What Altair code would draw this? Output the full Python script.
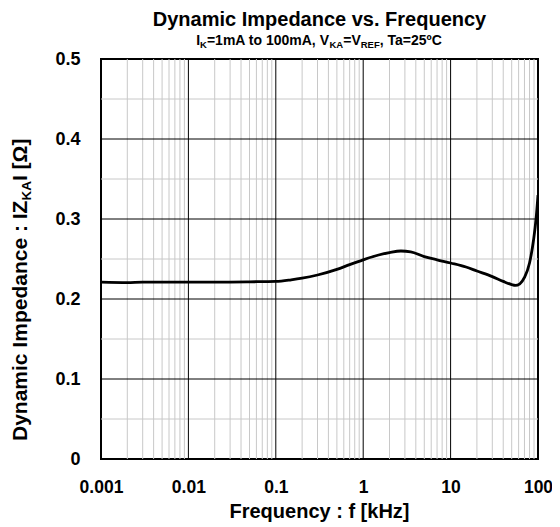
import altair as alt
import pandas as pd

# ---- data ----
freq_khz = [0.001, 0.002, 0.003, 0.005, 0.01, 0.02, 0.03, 0.05, 0.1, 0.15, 0.2, 0.3,
            0.5, 0.7, 1, 1.5, 2, 2.7, 3.5, 5, 7, 10, 15, 20, 30, 40, 50, 55, 62,
            70, 80, 89, 95, 100]
impedance = [0.221, 0.2205, 0.221, 0.221, 0.221, 0.221, 0.2212, 0.2215, 0.222, 0.224,
             0.226, 0.230, 0.237, 0.243, 0.249, 0.255, 0.258, 0.260, 0.259, 0.253,
             0.249, 0.245, 0.240, 0.235, 0.228, 0.222, 0.218, 0.217, 0.219, 0.227,
             0.245, 0.274, 0.300, 0.330]

x_major = [0.001, 0.01, 0.1, 1, 10, 100]
x_minor = [m * 10.0 ** e for e in range(-3, 2) for m in range(2, 10)]
y_major = [0.0, 0.1, 0.2, 0.3, 0.4, 0.5]
y_minor = [0.05, 0.15, 0.25, 0.35, 0.45]

title_text = "Dynamic Impedance vs. Frequency"
subtitle_parts = [("I", False), ("K", True), ("=1mA to 100mA, V", False), ("KA", True),
                  ("=V", False), ("REF", True), (", Ta=25ºC", False)]
ytitle_parts = [("Dynamic Impedance : IZ", False), ("KA", True), ("I [Ω]", False)]
xtitle_text = "Frequency : f [kHz]"

FONT = "Liberation Sans"
W, H = 437, 400
PAD_L = 93

# Arial/Liberation Sans Bold advance widths (per 1000 em)
AW = {" ": 278, ",": 278, ".": 278, ":": 333, "=": 584, "[": 333, "]": 333, "º": 365, "Ω": 770}
for c in "0123456789":
    AW[c] = 556
AW.update(dict(zip("ABCDEFGHIJKLMNOPQRSTUVWXYZ",
                   [722, 722, 722, 722, 667, 611, 778, 722, 278, 556, 722, 611, 833, 722, 778,
                    667, 778, 722, 667, 611, 722, 667, 944, 667, 667, 611])))
AW.update(dict(zip("abcdefghijklmnopqrstuvwxyz",
                   [556, 611, 556, 611, 556, 333, 611, 611, 278, 278, 556, 278, 889, 611, 611,
                    611, 611, 389, 556, 333, 611, 556, 778, 556, 556, 500])))


def tw(s, size):
    return sum(AW.get(c, 600) for c in s) * size / 1000.0


one = pd.DataFrame({"a": [0]})


def seg_text(parts, size, subsize, x0, y0, horizontal=True, center=True, drop=3.5):
    total = sum(tw(t, subsize if sub else size) for t, sub in parts)
    layers = []
    pos = (x0 - total / 2.0) if (horizontal and center) else (y0 + total / 2.0 if center else y0)
    for t, sub in parts:
        s = subsize if sub else size
        if horizontal:
            x, y = pos, y0 + (drop if sub else 0)
            ang = 0
        else:
            x, y = x0 + (drop if sub else 0), pos
            ang = 270
        layers.append(
            alt.Chart(one).mark_text(text=t, font=FONT, fontWeight="bold", fontSize=s,
                                     align="left", baseline="alphabetic", angle=ang,
                                     color="black")
            .encode(x=alt.value(x), y=alt.value(y))
        )
        w = tw(t, s)
        if horizontal:
            pos += w
        else:
            pos -= w
    return layers


xscale = alt.Scale(type="log", domain=[0.001, 100])
yscale = alt.Scale(domain=[0, 0.5])

xaxis = alt.Axis(values=x_major, format="~g", title=None, grid=False, ticks=False,
                 domain=False, labelFont=FONT, labelFontWeight="bold",
                 labelFontSize=17.5, labelColor="black", labelPadding=19,
                 labelFlush=False, labelOverlap=False, labelBound=False)
yaxis = alt.Axis(values=y_major, format="~g", title=None, grid=False, ticks=False,
                 domain=False, labelFont=FONT, labelFontWeight="bold",
                 labelFontSize=18, labelColor="black", labelPadding=21,
                 labelFlush=False, labelOverlap=False, labelBound=False)

vminor = alt.Chart(pd.DataFrame({"f": x_minor})).mark_rule(color="#c8c8c8", strokeWidth=1).encode(
    x=alt.X("f:Q", scale=xscale, axis=xaxis))
hminor = alt.Chart(pd.DataFrame({"z": y_minor})).mark_rule(color="#c8c8c8", strokeWidth=1).encode(
    y=alt.Y("z:Q", scale=yscale, axis=yaxis))
vmajor = alt.Chart(pd.DataFrame({"f": x_major[1:-1]})).mark_rule(color="black", strokeWidth=1).encode(
    x=alt.X("f:Q", scale=xscale, axis=xaxis))
hmajor = alt.Chart(pd.DataFrame({"z": y_major[1:-1]})).mark_rule(color="black", strokeWidth=1).encode(
    y=alt.Y("z:Q", scale=yscale, axis=yaxis))

line = alt.Chart(pd.DataFrame({"f": freq_khz, "z": impedance})).mark_line(
    color="black", strokeWidth=2.8, interpolate="monotone", clip=True
).encode(
    x=alt.X("f:Q", scale=xscale, axis=xaxis),
    y=alt.Y("z:Q", scale=yscale, axis=yaxis),
)

texts = []
texts += seg_text([(title_text, False)], 20, 20, W / 2.0, -33)
texts += seg_text(subtitle_parts, 14, 9.5, W / 2.0, -14, drop=3)
texts += seg_text([(xtitle_text, False)], 20, 20, W / 2.0, 459)
texts += seg_text(ytitle_parts, 21, 13.5, -74, 382, horizontal=False, center=False, drop=4)

chart = alt.layer(vminor, hminor, vmajor, hmajor, line, *texts).properties(
    width=W, height=H,
    autosize=alt.AutoSizeParams(type="none"),
    padding={"left": PAD_L, "top": 51, "right": 544 - PAD_L - W, "bottom": 65},
).configure_view(stroke="black", strokeWidth=2)

chart.save("out.html", embed_options={"renderer": "svg", "actions": False})
